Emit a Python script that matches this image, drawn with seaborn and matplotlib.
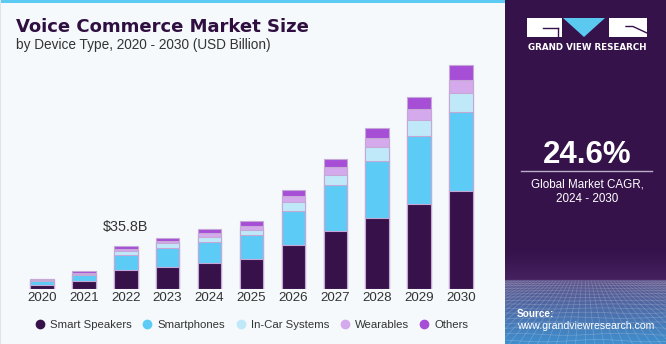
import numpy as np
import pandas as pd
import matplotlib
matplotlib.use("Agg")
import matplotlib.pyplot as plt
from matplotlib.patches import Rectangle, Polygon
from matplotlib.lines import Line2D
from matplotlib.colors import to_rgb
import seaborn as sns

# ---------------- data ----------------
years = ["2020", "2021", "2022", "2023", "2024", "2025", "2026", "2027", "2028", "2029", "2030"]
series = ["Smart Speakers", "Smartphones", "In-Car Systems", "Wearables", "Others"]
smart_speakers = [3.6, 6.7, 16.0, 19.0, 22.0, 24.9, 36.9, 48.3, 59.8, 70.9, 82.1]
smartphones = [3.4, 5.0, 12.5, 15.1, 17.6, 20.4, 28.7, 38.5, 47.2, 57.0, 66.2]
in_car = [0.6, 1.1, 3.3, 4.2, 4.2, 4.2, 7.3, 9.0, 11.7, 13.4, 15.9]
wearables = [0.6, 1.1, 1.7, 1.7, 2.8, 3.4, 4.7, 6.1, 7.9, 9.2, 10.9]
others = [0.8, 1.4, 2.3, 3.0, 3.6, 3.9, 5.3, 7.0, 8.4, 10.4, 12.0]
colors = ["#37114a", "#5ccbf5", "#bfe9f9", "#d5aaec", "#a64fd6"]
annot_year = "2022"
annot_text = "$35.8B"
cagr_text = "24.6%"

values = {
    "Smart Speakers": smart_speakers,
    "Smartphones": smartphones,
    "In-Car Systems": in_car,
    "Wearables": wearables,
    "Others": others,
}

df = pd.DataFrame({"year": years})
cum = np.zeros(len(years))
for s in series:
    cum = cum + np.array(values[s])
    df[s] = cum

# ---------------- figure ----------------
W, H = 666, 344
fig = plt.figure(figsize=(W / 100, H / 100), dpi=100)
fig.patch.set_facecolor("#f5f9fc")

def fx(px):
    return px / W

def fy(py):
    return 1 - py / H

# top stripe + left border
fig.add_artist(Rectangle((0, fy(2.7)), fx(505), 2.7 / H, transform=fig.transFigure,
                         facecolor="#5dcaf3", edgecolor="none", zorder=0))
fig.add_artist(Rectangle((0, 0), fx(1.2), 1, transform=fig.transFigure,
                         facecolor="#dfe4ea", edgecolor="none", zorder=0))

# ---------------- bars ----------------
base_px = 289.3
ax = fig.add_axes([fx(21), 1 - base_px / H, fx(461), 240 / H])
ax.set_facecolor("none")
for s, c in reversed(list(zip(series, colors))):
    sns.barplot(data=df, x="year", y=s, order=years, color=c, width=0.56,
                edgecolor="#c6a8d6", linewidth=0.8, errorbar=None, ax=ax,
                saturation=1)
ax.set_xlim(-0.5, len(years) - 0.5)
ax.set_ylim(0, 240 * 0.835)
ax.set_xlabel("")
ax.set_ylabel("")
ax.set_yticks([])
for sp in ax.spines.values():
    sp.set_visible(False)
ax.tick_params(axis="x", length=0, pad=1.8, labelsize=9.6, labelcolor="#333333")
for lbl in ax.get_xticklabels():
    lbl.set_fontfamily("Liberation Sans")

ai = years.index(annot_year)
ax.annotate(annot_text, xy=(ai, df["Others"].iloc[ai]), xytext=(0, 10.8),
            textcoords="offset points", ha="center", va="baseline",
            fontsize=10.4, color="#333333", family="Liberation Sans")

# ---------------- titles ----------------
fig.text(fx(16), fy(31.7), "Voice Commerce Market Size", fontsize=13,
         fontweight="bold", color="#2e0f40", family="DejaVu Sans", va="baseline")
fig.text(fx(16), fy(49.3), "by Device Type, 2020 - 2030 (USD Billion)", fontsize=9.8,
         color="#333333", family="Liberation Sans", va="baseline")

# ---------------- legend ----------------
handles = [Line2D([0], [0], marker="o", linestyle="none", markersize=6,
                  markerfacecolor=c, markeredgecolor=c) for c in colors]
fig.legend(handles, series, loc="center", bbox_to_anchor=(fx(252), fy(325)),
           ncol=5, frameon=False, handlelength=0.8, handletextpad=0.5,
           columnspacing=0.95, borderaxespad=0, borderpad=0,
           prop={"family": "Liberation Sans", "size": 8.2}, labelcolor="#333333")

# ---------------- right panel ----------------
panel = "#36124b"
fig.add_artist(Rectangle((fx(505), 0), 1 - fx(505), 1, transform=fig.transFigure,
                         facecolor=panel, edgecolor="none", zorder=1))

# bottom texture (y 250..344 px)
tex = fig.add_axes([fx(505), 0, 1 - fx(505), 94 / H], zorder=2)
tex.set_xlim(0, 161)
tex.set_ylim(94, 0)
tex.axis("off")
n = 188
img = np.zeros((n, 2, 3))
c_panel = np.array(to_rgb(panel))
c_mid = np.array(to_rgb("#45215f"))
c_top2 = np.array(to_rgb("#5a5088"))
c_bot = np.array(to_rgb("#3f8fcf"))
for i in range(n):
    y = i / 2.0
    if y < 30:
        t = y / 30
        img[i, :, :] = c_panel * (1 - t) + c_mid * t
    else:
        t = (y - 30) / 64
        img[i, :, :] = c_top2 * (1 - t) + c_bot * t
tex.imshow(img, extent=[0, 161, 94, 0], aspect="auto", interpolation="bilinear")
yy = 31.0
step = 2.2
while yy < 94:
    wav = 1.2 * np.sin(np.linspace(0, 3 * np.pi, 30) + yy * 0.2)
    tex.plot(np.linspace(0, 161, 30), yy + wav * (yy - 30) / 64, color="white",
             alpha=0.22, lw=0.5)
    yy += step
    step *= 1.08
for k in range(-30, 31):
    tex.plot([80 + k * 3.2, 80 + k * 9.5], [31, 94], color="white", alpha=0.2, lw=0.5)
tex.set_xlim(0, 161)
tex.set_ylim(94, 0)

# logo
fig.add_artist(Rectangle((fx(527), fy(37)), fx(35), 19 / H, transform=fig.transFigure,
                         facecolor="white", edgecolor="none", zorder=3))
fig.add_artist(Line2D([fx(543), fx(558)], [fy(28), fy(28)], transform=fig.transFigure,
                      color=panel, lw=1.0, zorder=4))
fig.add_artist(Line2D([fx(558), fx(558)], [fy(28), fy(37)], transform=fig.transFigure,
                      color=panel, lw=1.0, zorder=4))
fig.add_artist(Polygon([(fx(563), fy(18)), (fx(605), fy(18)), (fx(584), fy(37))],
                       closed=True, transform=fig.transFigure, facecolor="#5bc8f0",
                       edgecolor="none", zorder=3))
fig.add_artist(Rectangle((fx(609), fy(37)), fx(38), 19 / H, transform=fig.transFigure,
                         facecolor="white", edgecolor="none", zorder=3))
fig.add_artist(Line2D([fx(626), fx(633), fx(647)], [fy(26.5), fy(26.5), fy(33)],
                      transform=fig.transFigure, color=panel, lw=1.0, zorder=4))
fig.text(fx(587), fy(47.7), "GRAND VIEW RESEARCH", fontsize=6.3, fontweight="bold",
         color="white", family="DejaVu Sans", ha="center", va="center", zorder=5)

fig.text(fx(587), fy(163.3), cagr_text, fontsize=22.5, fontweight="bold", color="white",
         family="Liberation Sans", ha="center", va="baseline", zorder=5)
fig.add_artist(Line2D([fx(521), fx(652)], [fy(170.7), fy(170.7)], transform=fig.transFigure,
                      color="#b9aec6", lw=1.0, zorder=5))
fig.text(fx(587), fy(187.3), "Global Market CAGR,", fontsize=8.4, color="white",
         family="Liberation Sans", ha="center", va="baseline", zorder=5)
fig.text(fx(587), fy(202.3), "2024 - 2030", fontsize=8.4, color="white",
         family="Liberation Sans", ha="center", va="baseline", zorder=5)
fig.text(fx(517), fy(316.7), "Source:", fontsize=7.2, fontweight="bold", color="white",
         family="Liberation Sans", va="baseline", zorder=5)
fig.text(fx(517), fy(328.6), "www.grandviewresearch.com", fontsize=7.6, color="white",
         family="Liberation Sans", va="baseline", zorder=5)

fig.savefig("out.png", dpi=100, facecolor=fig.get_facecolor())
